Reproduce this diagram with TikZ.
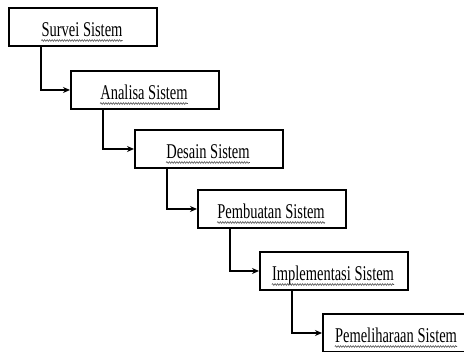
\documentclass[tikz,border=0pt]{standalone}
\usepackage{fontspec}
\setmainfont{Liberation Serif}
\usetikzlibrary{arrows.meta,decorations.pathmorphing}
\begin{document}
\begin{tikzpicture}[x=1pt,y=-1pt,
  stepbox/.style={draw,line width=2pt,fill=white,minimum width=148pt,minimum height=38pt,inner sep=0pt,anchor=north west},
  lbl/.style={font=\fontsize{21}{21}\selectfont,inner sep=0pt,anchor=base},
  conn/.style={line width=2pt,-{Stealth[length=7pt,width=6pt]}},
  wavy/.style={draw=gray!60!black,line width=0.6pt,decorate,decoration={snake,amplitude=0.8pt,segment length=2.5pt}}]
\clip (0,0) rectangle (464,352);
\fill[white] (0,0) rectangle (464,352);
% boxes
\node[stepbox] (b1) at (8,7) {};
\node[stepbox] (b2) at (70,70) {};
\node[stepbox] (b3) at (134,129) {};
\node[stepbox] (b4) at (197,189) {};
\node[stepbox] (b5) at (259,251) {};
\node[stepbox,minimum width=152pt] (b6) at (322,313) {};
% labels
\node[lbl] (t1) at (82,37) {\scalebox{0.69}[1]{Survei Sistem}};
\node[lbl] (t2) at (144,100) {\scalebox{0.69}[1]{Analisa Sistem}};
\node[lbl] (t3) at (208,159) {\scalebox{0.69}[1]{Desain Sistem}};
\node[lbl] (t4) at (271,219) {\scalebox{0.69}[1]{Pembuatan Sistem}};
\node[lbl] (t5) at (333,281) {\scalebox{0.69}[1]{Implementasi Sistem}};
\node[lbl] (t6) at (396,343) {\scalebox{0.69}[1]{Pemeliharaan Sistem}};
% wavy underlines
\foreach \t in {t1,t2,t3,t4,t5,t6}{
  \draw[wavy] ([yshift=-3.5pt]\t.base west) -- ([yshift=-3.5pt]\t.base east);
}
% connectors
\draw[conn] ([xshift=33pt]b1.south west) |- (b2.west);
\draw[conn] ([xshift=33pt]b2.south west) |- (b3.west);
\draw[conn] ([xshift=33pt]b3.south west) |- (b4.west);
\draw[conn] ([xshift=33pt]b4.south west) |- (b5.west);
\draw[conn] ([xshift=33pt]b5.south west) |- (b6.west);
\end{tikzpicture}
\end{document}
